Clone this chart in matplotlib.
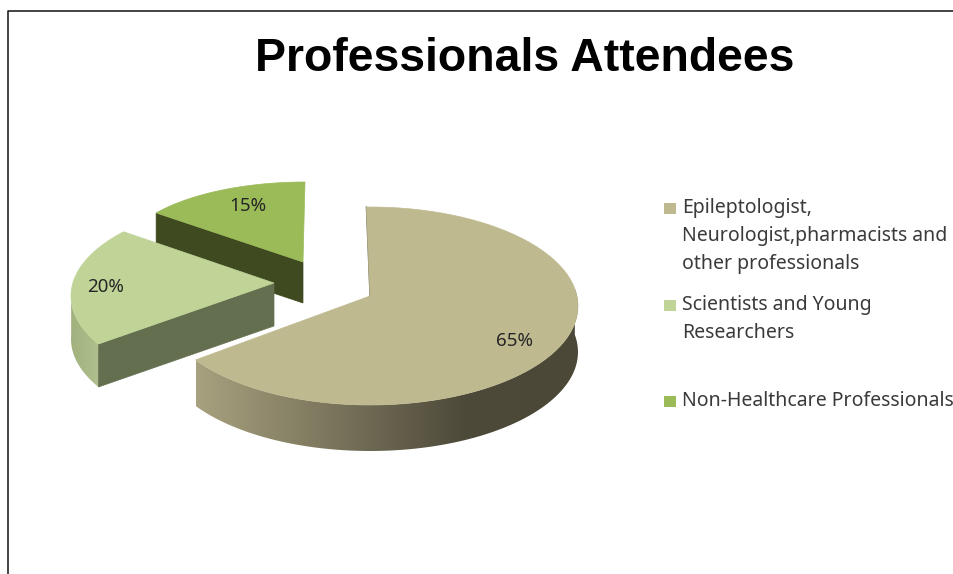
import matplotlib
matplotlib.use('Agg')
import matplotlib.pyplot as plt
import numpy as np
from matplotlib.colors import LinearSegmentedColormap
from matplotlib.patches import Polygon, Rectangle

# Data
categories = ['Epileptologist,\nNeurologist,pharmacists and\nother professionals',
              'Scientists and Young\nResearchers',
              'Non-Healthcare Professionals']
values = [65, 20, 15]
labels = ['65%', '20%', '15%']
colors = ['#bfb990', '#c0d498', '#9bbb59']

# Each exploded slice has its own ellipse, in pixels, because of the perspective
centers = [(370, 306), (276, 296), (305, 257)]
apexes = [(370, 296), (274, 283), (303, 262)]
radii = [(208, 99), (205, 96), (184, 75)]
depths = [46, 43, 41]
start_shift = [-1, 6, 0]
end_shift = [3, 6, 0]
label_pos = [(515, 341), (106, 287), (248, 206)]
legend_y = [208, 305, 401]

FONT = 'Noto Sans'

# pie angles, clockwise from the top
ends = 360 * np.cumsum(values) / np.sum(values)
starts = ends - 360 * np.array(values) / np.sum(values)


def rim(i, a0, a1, dy=0):
    a = np.radians(np.linspace(a0, a1, 80))
    cx, cy = centers[i]
    rx, ry = radii[i]
    return np.column_stack([cx + rx * np.sin(a), cy - ry * np.cos(a) + dy])


def wall(i, a0, a1):
    return np.vstack([rim(i, a0, a1), rim(i, a0, a1, depths[i])[::-1]])


def flat_wall(i, a, color, z):
    p = rim(i, a, a)[0]
    q = apexes[i]
    d = depths[i]
    pts = [p, q, (q[0], q[1] + d), (p[0], p[1] + d)]
    ax.add_patch(Polygon(pts, closed=True, fc=color, ec=color, lw=0.5, zorder=z))


def top_face(i, a0, a1, z):
    pts = np.vstack([apexes[i], rim(i, a0, a1)])
    ax.add_patch(Polygon(pts, closed=True, fc=colors[i], ec=colors[i], lw=0.5, zorder=z))


def gradient_wall(i, a0, a1, cols, z):
    pts = wall(i, a0, a1)
    poly = Polygon(pts, closed=True, fc='none', ec='none', zorder=z)
    ax.add_patch(poly)
    cmap = LinearSegmentedColormap.from_list('wall', cols)
    shade = np.linspace(0, 1, 256).reshape(1, -1)
    im = ax.imshow(shade, cmap=cmap, aspect='auto', zorder=z, interpolation='bilinear',
                   extent=[pts[:, 0].min(), pts[:, 0].max(), pts[:, 1].max(), pts[:, 1].min()])
    im.set_clip_path(poly)


fig = plt.figure(figsize=(9.54, 5.74), dpi=100)
ax = fig.add_axes([0, 0, 1, 1])
ax.axis('off')

# 15% slice
a0, a1 = starts[2] + start_shift[2], ends[2] + end_shift[2]
flat_wall(2, a0, '#3f4a20', 1)
top_face(2, a0, a1, 2)

# 20% slice
a0, a1 = starts[1] + start_shift[1], ends[1] + end_shift[1]
flat_wall(1, a0, '#646f50', 4)
gradient_wall(1, a0, 272, ['#a2b27f', '#b0c08c'], 3)
top_face(1, a0, a1, 5)

# 65% slice
a0, a1 = starts[0] + start_shift[0], ends[0] + end_shift[0]
gradient_wall(0, 80, a1, [(0, '#a8a17f'), (0.7, '#4e4a3a'), (1, '#4c4837')], 6)
top_face(0, a0, a1, 7)
top_pt = rim(0, a0, a0)[0]
ax.plot([top_pt[0], apexes[0][0]], [top_pt[1], apexes[0][1]], color='#5d5a48', lw=0.9, zorder=6.5)

# value labels
for (x, y), s in zip(label_pos, labels):
    ax.text(x, y, s, family=FONT, fontsize=13.5, color='#262626', ha='center', va='center', zorder=8)

# legend, one text per line to keep the wide line spacing
for y0, name, c in zip(legend_y, categories, colors):
    ax.add_patch(Rectangle((664, y0 - 5), 12, 11, fc=c, ec='none'))
    for k, line in enumerate(name.split('\n')):
        ax.text(682, y0 + k * 28, line, family=FONT, fontsize=14, color='#3a3a3a',
                ha='left', va='center')

ax.text(525, 59, 'Professionals Attendees', family='Liberation Sans', fontweight='bold',
        fontsize=33.4, color='black', ha='center', va='center')

# frame of the pasted picture
ax.plot([8.5, 8.5, 954], [574, 10.5, 10.5], color='#111111', lw=1.1)

ax.set_xlim(0, 954)
ax.set_ylim(574, 0)
fig.savefig('out.png', dpi=100, facecolor='white')
